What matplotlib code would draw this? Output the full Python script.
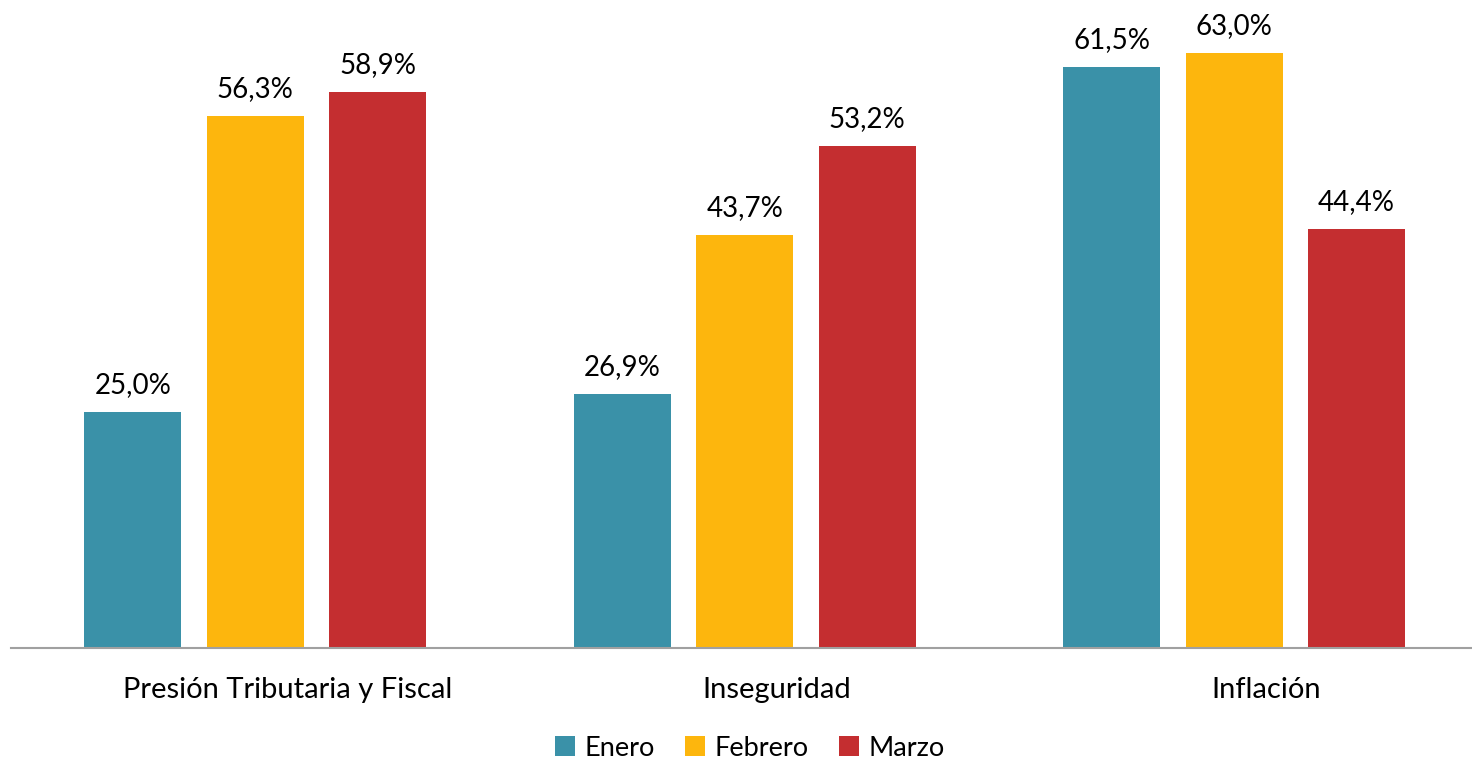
import matplotlib
matplotlib.use("Agg")
import matplotlib.pyplot as plt
import matplotlib.transforms as mtransforms
import numpy as np

categories = ["Presión Tributaria y Fiscal", "Inseguridad", "Inflación"]
series_names = ["Enero", "Febrero", "Marzo"]
enero = [25.0, 26.9, 61.5]
febrero = [56.3, 43.7, 63.0]
marzo = [58.9, 53.2, 44.4]
colors = ["#3A91A8", "#FDB60D", "#C42E30"]

plt.rcParams['font.family'] = ['Lato', 'DejaVu Sans']

fig = plt.figure(figsize=(14.72, 7.61), dpi=100)
ax = fig.add_axes([10.5/1472, 113/761, 1468.5/1472, 642/761])

x = np.arange(len(categories))
width = 0.198
offsets = [-0.25, 0.0, 0.25]
for vals, name, col, off in zip([enero, febrero, marzo], series_names, colors, offsets):
    bars = ax.bar(x + off, vals, width, color=col, label=name)
    for b, v in zip(bars, vals):
        ax.text(b.get_x() + b.get_width()/2, v + 1.5, f"{v:.1f}%".replace(".", ","),
                ha="center", va="bottom", fontsize=20, color="black")

ax.set_xlim(-0.5, 2.5)
ax.set_ylim(0, 68)
ax.set_yticks([])
ax.set_xticks(x)
ax.set_xticklabels(categories, fontsize=21)
ax.tick_params(axis="x", length=0, pad=21)
shift = mtransforms.ScaledTranslation(32/100, 0, fig.dpi_scale_trans)
for lab in ax.get_xticklabels():
    lab.set_transform(lab.get_transform() + shift)
for s in ["top", "right", "left"]:
    ax.spines[s].set_visible(False)
ax.spines["bottom"].set_color("#A0A0A0")
ax.spines["bottom"].set_linewidth(1.5)

leg = fig.legend(loc="center", bbox_to_anchor=(750/1472, 1 - 748/761), ncol=3, frameon=False,
                 fontsize=19.5, handlelength=0.75, handleheight=0.75, handletextpad=0.35,
                 columnspacing=1.1)

fig.savefig("out.png", dpi=100)
